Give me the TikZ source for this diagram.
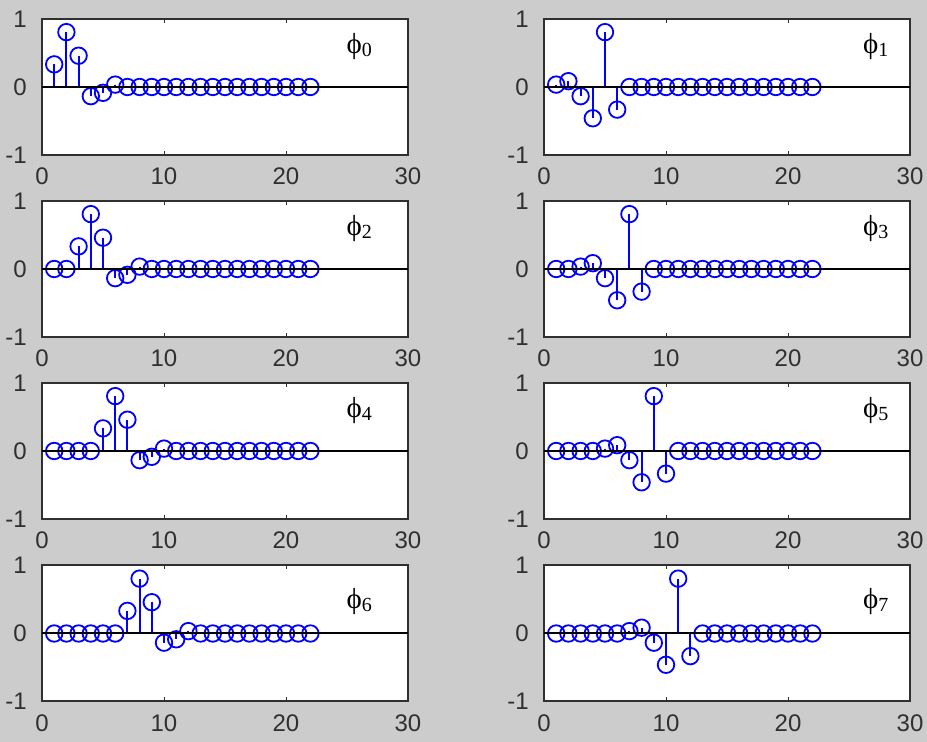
\documentclass[tikz,border=0pt]{standalone}
\usepackage{fontspec}
\setmainfont{Liberation Serif}
\newfontfamily\tickfont{Liberation Sans}
\usetikzlibrary{positioning,calc}

\definecolor{figgray}{RGB}{204,204,204}
\definecolor{axisdark}{RGB}{48,48,48}
\definecolor{stemblue}{RGB}{0,0,255}

% db3 scaling and wavelet taps
\def\hcoef{{0.3327,0.8069,0.4599,-0.1350,-0.0854,0.0352}}
\def\gcoef{{0.0352,0.0854,-0.1350,-0.4599,0.8069,-0.3327}}

\tikzset{
  plotbox/.style={draw=axisdark, line width=2pt, fill=white},
  tickmark/.style={axisdark, line width=1pt},
  zeroline/.style={black, line width=2pt},
  ticklabel/.style={font=\tickfont\fontsize{24}{24}\selectfont, text=axisdark, inner sep=0pt},
  stemline/.style={stemblue, line width=2pt},
  stemmark/.style={circle, draw=stemblue, line width=1.8pt, minimum size=16.5pt, inner sep=0pt},
  philabel/.style={font=\fontsize{29}{29}\selectfont, inner sep=0pt}
}

\begin{document}
\begin{tikzpicture}[x=1pt,y=1pt]
  \fill [figgray] (0,0) rectangle (927,742);
  \useasboundingbox (0,0) rectangle (927,742);

  \foreach \k/\left/\zero/\off/\coef/\lx/\ly in {
      0/42/655/0/\hcoef/26.0/0.60,  1/544/655/0/\gcoef/27.2/0.60,
      2/42/473/2/\hcoef/26.0/0.60,  3/544/473/2/\gcoef/27.2/0.60,
      4/42/291/4/\hcoef/26.0/0.60,  5/544/291/4/\gcoef/27.2/0.60,
      6/42/108.5/6/\hcoef/26.0/0.47, 7/544/108.5/6/\gcoef/27.2/0.47} {
    \begin{scope}[shift={(\left,\zero)}, x=12.2pt, y=68pt]
      \draw [plotbox] (0,-1) rectangle (30,1);
      \foreach \t in {10,20} {
        \draw [tickmark] (\t,-1) -- ++(0,4pt) (\t,1) -- ++(0,-4pt);
      }

      % axis numbers
      \foreach \t in {0,10,20,30} {
        \node [ticklabel, below=13pt] (xt\k-\t) at (\t,-1) {\t};
      }
      \foreach \v/\name in {1/top,0/mid,-1/bot} {
        \node [ticklabel, left=15pt] (yt\k-\name) at (0,\v) {\v};
      }

      % stems
      \foreach \n in {1,...,22} {
        \pgfmathtruncatemacro\idx{\n-1-\off}
        \pgfmathtruncatemacro\inside{(\idx>=0)&&(\idx<=5)}
        \pgfmathsetmacro\val{\inside*\coef[max(0,min(5,\idx))]}
        \coordinate (b\k-\n) at (\n,0);
        \node [stemmark] (m\k-\n) at (\n,\val) {};
        \draw [stemline] (b\k-\n) -- (m\k-\n.center);
      }
      \draw [zeroline] (0,0) -- (30,0);

      \node [philabel] (phi\k) at (\lx,\ly)
        {\char"03D5\raisebox{-3pt}{\fontsize{20}{20}\selectfont\k}};
    \end{scope}
  }
\end{tikzpicture}
\end{document}
